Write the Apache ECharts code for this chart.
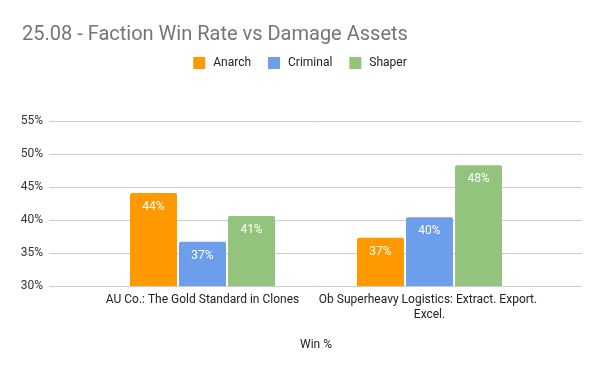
<!DOCTYPE html>
<html><head><meta charset="utf-8">
<script src="https://cdn.jsdelivr.net/npm/echarts@6/dist/echarts.min.js"></script>
<style>html,body{margin:0;padding:0;background:#fff}#c{width:600px;height:371px}</style>
</head><body><div id="c"></div>
<script>
const categories = ["AU Co.: The Gold Standard in Clones", "Ob Superheavy Logistics: Extract. Export. Excel."];
const anarch = [44.1, 37.3];
const criminal = [36.7, 40.4];
const shaper = [40.6, 48.3];
const yTicks = [30, 35, 40, 45, 50, 55];
const seriesNames = ["Anarch", "Criminal", "Shaper"];
const colors = ["#ff9900", "#6d9eeb", "#93c47d"];

const chart = echarts.init(document.getElementById('c'), null, {renderer: 'canvas'});
const font = 'Roboto, Arial, sans-serif';
const mk = (name, data, color) => ({
  name, type: 'bar', data, xAxisIndex: 1, yAxisIndex: 1,
  barWidth: 47, barGap: '4.3%',
  itemStyle: {color, borderRadius: [2, 2, 0, 0]},
  label: {show: true, position: 'insideTop', distance: 8, color: '#ffffff', fontSize: 12, fontFamily: font,
    formatter: p => Math.round(p.value) + '%'}
});
chart.setOption({
  animation: false,
  textStyle: {fontFamily: font},
  title: {text: '25.08 - Faction Win Rate vs Damage Assets', left: 17, top: 20,
    textStyle: {fontFamily: font, fontSize: 20, fontWeight: 'normal', color: '#757575'}},
  legend: {data: seriesNames, top: 52, left: 'center', itemWidth: 12, itemHeight: 12, itemGap: 17,
    icon: 'rect', textStyle: {fontSize: 12, color: '#222', fontFamily: font, padding: [0, 0, 0, 3]}},
  grid: [
    {left: 49, right: 18, top: 121, bottom: 85},
    {left: 89, right: 57, top: 121, bottom: 85}
  ],
  xAxis: [
    {type: 'category', gridIndex: 0, data: categories, show: false},
    {type: 'category', gridIndex: 1, data: categories,
      axisLine: {show: false}, axisTick: {show: false},
      axisLabel: {interval: 0, margin: 6, color: '#222', fontSize: 12, fontFamily: font, width: 222, overflow: 'break', lineHeight: 15},
      name: 'Win %', nameLocation: 'middle', nameGap: 53,
      nameTextStyle: {color: '#222', fontSize: 12, fontFamily: font}}
  ],
  yAxis: [
    {type: 'value', gridIndex: 0, min: yTicks[0], max: yTicks[yTicks.length - 1], interval: 5,
      axisLine: {show: false}, axisTick: {show: false},
      axisLabel: {color: '#333', fontSize: 12, fontFamily: font, margin: 6, formatter: v => v + '%'},
      splitLine: {lineStyle: {color: '#cccccc', width: 1}}},
    {type: 'value', gridIndex: 1, min: yTicks[0], max: yTicks[yTicks.length - 1], interval: 5, show: false,
      splitLine: {show: false}}
  ],
  series: [
    mk(seriesNames[0], anarch, colors[0]),
    mk(seriesNames[1], criminal, colors[1]),
    mk(seriesNames[2], shaper, colors[2])
  ]
});
</script></body></html>
